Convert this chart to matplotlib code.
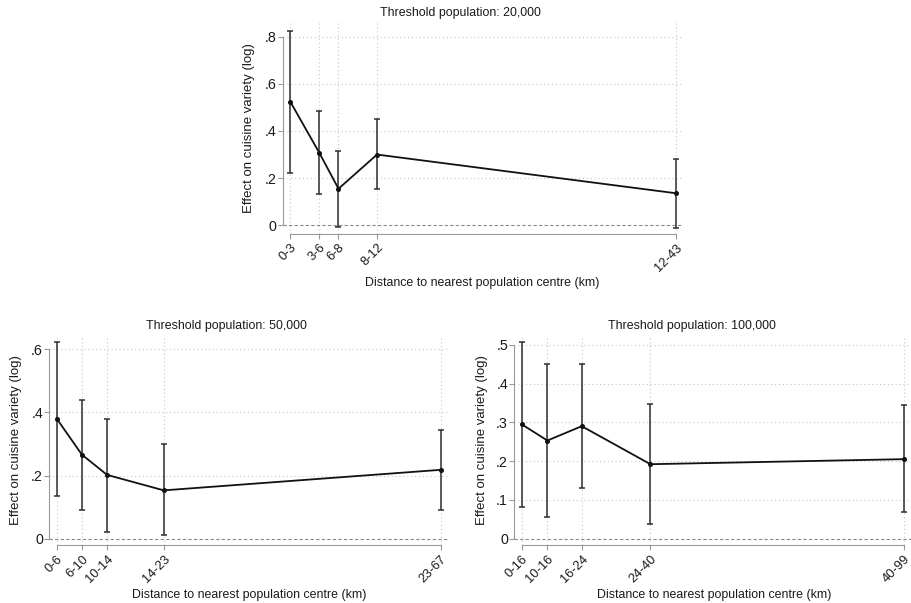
import matplotlib
matplotlib.use("Agg")
import matplotlib.pyplot as plt

plt.rcParams["font.family"] = ["Liberation Sans", "DejaVu Sans"]

W, H = 912, 603

# Threshold population: 20,000
labels_20k = ["0-3", "3-6", "6-8", "8-12", "12-43"]
x_20k = [3, 6, 8, 12, 43]
est_20k = [0.524, 0.308, 0.155, 0.300, 0.136]
lo_20k = [0.220, 0.131, -0.006, 0.154, -0.010]
hi_20k = [0.825, 0.485, 0.315, 0.450, 0.282]

# Threshold population: 50,000
labels_50k = ["0-6", "6-10", "10-14", "14-23", "23-67"]
x_50k = [6, 10, 14, 23, 67]
est_50k = [0.380, 0.266, 0.202, 0.153, 0.218]
lo_50k = [0.136, 0.091, 0.022, 0.011, 0.091]
hi_50k = [0.622, 0.440, 0.379, 0.299, 0.345]

# Threshold population: 100,000
labels_100k = ["0-16", "10-16", "16-24", "24-40", "40-99"]
x_100k = [10, 16, 24, 40, 99]
est_100k = [0.295, 0.253, 0.290, 0.192, 0.205]
lo_100k = [0.081, 0.055, 0.131, 0.037, 0.069]
hi_100k = [0.507, 0.451, 0.451, 0.346, 0.344]

yticks_20k = [0, 0.2, 0.4, 0.6, 0.8]
yticks_50k = [0, 0.2, 0.4, 0.6]
yticks_100k = [0, 0.1, 0.2, 0.3, 0.4, 0.5]

FS = 8.9
AXIS_GRAY = "#9a9a9a"
TEXT = "#1a1a1a"


def fmt(v):
    if v == 0:
        return "0"
    return ("%.1f" % v).lstrip("0")


def px_axes(fig, left, right, top, bottom):
    return fig.add_axes([left / W, (H - bottom) / H, (right - left) / W, (bottom - top) / H])


def panel(fig, box, xs, labels, est, lo, hi, yticks, xlim, ylim, title, title_xy, xlabel_xy, ylabel_x):
    ax = px_axes(fig, *box)
    ax.set_xlim(*xlim)
    ax.set_ylim(*ylim)

    # grid at tick positions
    for yv in yticks:
        if yv == 0:
            continue
        ax.axhline(yv, color="#c8c8c8", lw=0.8, ls=(0, (1, 2.5)), zorder=1)
    for xv in xs:
        ax.axvline(xv, color="#c8c8c8", lw=0.8, ls=(0, (1, 2.5)), zorder=1)
    ax.axhline(0, color="#8a8a8a", lw=0.8, ls=(0, (3, 2)), zorder=1)

    # confidence intervals and point estimates
    yerr = [[e - l for e, l in zip(est, lo)], [h - e for e, h in zip(est, hi)]]
    ax.errorbar(xs, est, yerr=yerr, fmt="none", ecolor="#2e2e2e", elinewidth=1.1,
                capsize=2.5, capthick=1.1, zorder=3)
    ax.plot(xs, est, color="#111111", lw=1.3, marker="o", ms=2.6, zorder=4)

    for s in ("top", "right"):
        ax.spines[s].set_visible(False)
    for s in ("left", "bottom"):
        ax.spines[s].set_color(AXIS_GRAY)
        ax.spines[s].set_linewidth(0.8)
    ax.spines["left"].set_bounds(min(yticks), max(yticks))
    ax.spines["bottom"].set_bounds(xs[0], xs[-1])

    ax.set_yticks(yticks)
    ax.set_yticklabels([fmt(v) for v in yticks], fontsize=FS + 1.4, color=TEXT)
    ax.set_xticks(xs)
    ax.set_xticklabels(labels, fontsize=FS + 0.4, color=TEXT, rotation=45,
                       ha="right", va="top", rotation_mode="anchor")
    ax.tick_params(axis="both", color=AXIS_GRAY, length=3.5, width=0.8)
    ax.tick_params(axis="y", pad=1)
    ax.tick_params(axis="x", pad=2)

    fig.text(title_xy[0] / W, 1 - title_xy[1] / H, title, fontsize=FS, color=TEXT,
             ha="center", va="center")
    fig.text(xlabel_xy[0] / W, 1 - xlabel_xy[1] / H,
             "Distance to nearest population centre (km)", fontsize=FS, color=TEXT,
             ha="center", va="center")
    ycen = (box[2] + box[3]) / 2
    fig.text(ylabel_x / W, 1 - ycen / H, "Effect on cuisine variety (log)", fontsize=FS + 0.6,
             color=TEXT, ha="center", va="center", rotation=90)
    return ax


fig = plt.figure(figsize=(W / 100, H / 100), dpi=100)
fig.patch.set_facecolor("white")

panel(fig, (283, 683, 23, 234), x_20k, labels_20k, est_20k, lo_20k, hi_20k, yticks_20k,
      (2.24, 43.76), (-0.037, 0.858), "Threshold population: 20,000",
      (460, 13), (482, 283), 249)

panel(fig, (49.3, 448, 335, 545.3), x_50k, labels_50k, est_50k, lo_50k, hi_50k, yticks_50k,
      (4.82, 68.16), (-0.021, 0.645), "Threshold population: 50,000",
      (226, 326), (249, 595), 16)

panel(fig, (514.3, 911, 335, 545.3), x_100k, labels_100k, est_100k, lo_100k, hi_100k,
      yticks_100k, (8.29, 100.7), (-0.017, 0.525), "Threshold population: 100,000",
      (692, 326), (714, 595), 482)

fig.savefig("out.png", dpi=100, facecolor="white")
